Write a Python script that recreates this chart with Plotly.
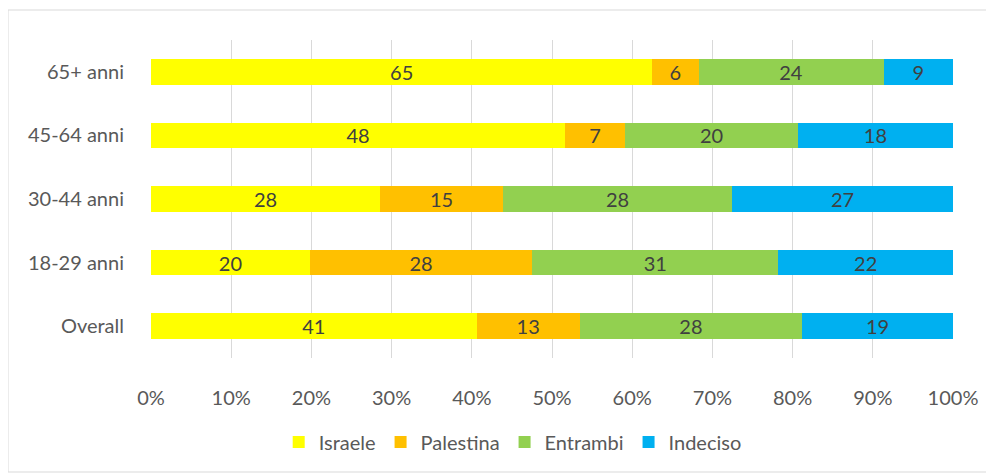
import plotly.graph_objects as go

categories = ["Overall", "18-29 anni", "30-44 anni", "45-64 anni", "65+ anni"]
series_names = ["Israele", "Palestina", "Entrambi", "Indeciso"]
israele = [41, 20, 28, 48, 65]
palestina = [13, 28, 15, 7, 6]
entrambi = [28, 31, 28, 20, 24]
indeciso = [19, 22, 27, 18, 9]
colors = ["#FFFF00", "#FFC000", "#92D050", "#00B0F0"]
tick_vals = [0, 10, 20, 30, 40, 50, 60, 70, 80, 90, 100]
tick_text = [f"{v}%" for v in tick_vals]

FONT = "Lato, Carlito, Calibri, sans-serif"

fig = go.Figure()
for name, vals, col in zip(series_names, [israele, palestina, entrambi, indeciso], colors):
    fig.add_trace(go.Bar(
        y=categories, x=vals, name=name, orientation="h",
        marker=dict(color=col, line=dict(width=0)),
        text=vals, texttemplate="%{text}", textposition="inside",
        insidetextanchor="middle", textangle=0, constraintext="none",
        textfont=dict(family=FONT, size=20, color="#404040"),
        hoverinfo="skip",
    ))

fig.update_layout(
    width=994, height=474,
    barmode="stack", barnorm="percent", bargap=0.6,
    plot_bgcolor="white", paper_bgcolor="white",
    margin=dict(l=143, r=49, t=32, b=124),
    font=dict(family=FONT, size=20, color="#595959"),
    xaxis=dict(range=[0, 100], tickvals=tick_vals, ticktext=tick_text,
               showgrid=True, gridcolor="#d9d9d9", gridwidth=1,
               zeroline=False, showline=False,
               ticks="outside", ticklen=22, tickcolor="rgba(0,0,0,0)",
               tickfont=dict(size=20, color="#595959")),
    yaxis=dict(showgrid=False, zeroline=False, showline=False,
               ticks="outside", ticklen=22, tickcolor="rgba(0,0,0,0)",
               tickfont=dict(size=20, color="#595959")),
    legend=dict(orientation="h", x=0.451, xanchor="center", y=-0.264, yanchor="middle",
                traceorder="normal", font=dict(size=20, color="#595959"),
                itemwidth=30),
    uniformtext=dict(mode=False),
    shapes=[dict(type="rect", xref="paper", yref="paper",
                 x0=-0.1783, x1=1.0486, y0=-0.3585, y1=1.0943,
                 line=dict(color="#d9d9d9", width=1), fillcolor="rgba(0,0,0,0)",
                 layer="below")],
)

fig.write_html("out.html")
